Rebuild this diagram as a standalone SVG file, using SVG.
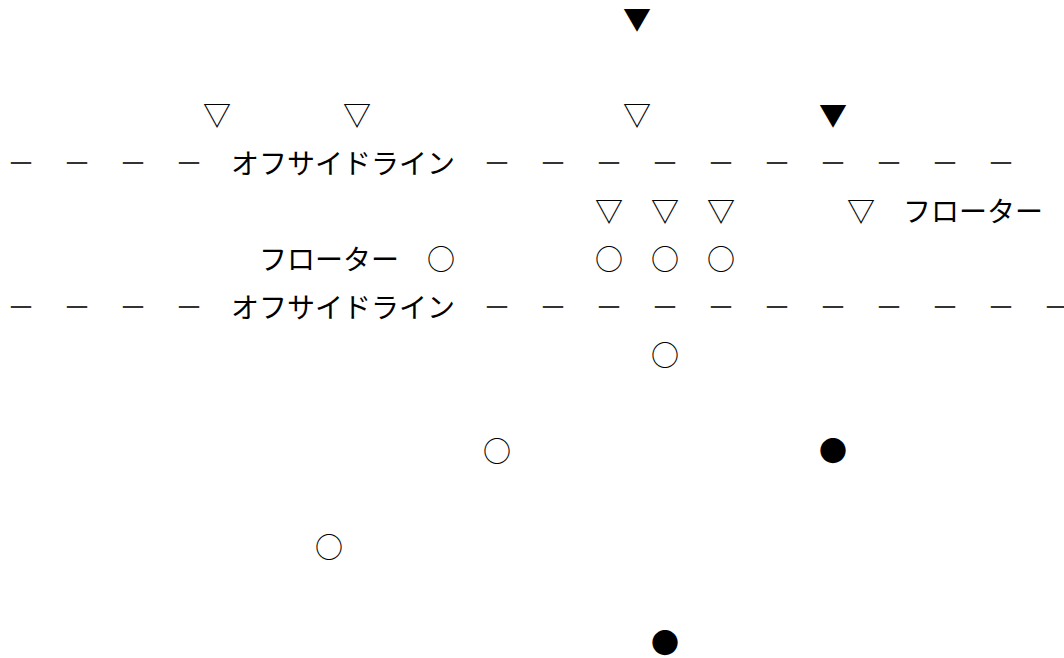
<svg xmlns="http://www.w3.org/2000/svg" width="1064" height="658" viewBox="0 0 1064 658">
<style>
.t{font-family:"Noto Sans CJK JP","Noto Sans CJK SC",sans-serif;font-size:28px;fill:#000}
.m{text-anchor:middle}
.d{fill:#333}
</style>
<rect width="1064" height="658" fill="#fff"/>
<g id="offside-lines">
<g id="line1">
<text class="t d m" x="21 77 133 189" y="174">－－－－</text>
<text class="t" x="231" y="174">オフサイドライン</text>
<text class="t d m" x="497 553 609 665 721 777 833 889 945 1001" y="174">－－－－－－－－－－</text>
</g>
<g id="line2">
<text class="t d m" x="21 77 133 189" y="318">－－－－</text>
<text class="t" x="231" y="318">オフサイドライン</text>
<text class="t d m" x="497 553 609 665 721 777 833 889 945 1001 1057" y="318">－－－－－－－－－－－</text>
</g>
</g>
<g id="labels">
<text id="floater-right" class="t" x="903" y="222">フローター</text>
<text id="floater-left" class="t" x="259" y="270">フローター</text>
</g>
<g id="players">
<g id="p1"><text class="t m" x="637" y="30">▼</text></g>
<g id="p2"><text class="t m" x="217" y="126">▽</text></g>
<g id="p3"><text class="t m" x="357" y="126">▽</text></g>
<g id="p4"><text class="t m" x="637" y="126">▽</text></g>
<g id="p5"><text class="t m" x="833" y="126">▼</text></g>
<g id="p6"><text class="t m" x="609" y="222">▽</text></g>
<g id="p7"><text class="t m" x="665" y="222">▽</text></g>
<g id="p8"><text class="t m" x="721" y="222">▽</text></g>
<g id="p9"><text class="t m" x="861" y="222">▽</text></g>
<g id="p10"><text class="t m" x="441" y="270">○</text></g>
<g id="p11"><text class="t m" x="609" y="270">○</text></g>
<g id="p12"><text class="t m" x="665" y="270">○</text></g>
<g id="p13"><text class="t m" x="721" y="270">○</text></g>
<g id="p14"><text class="t m" x="665" y="366">○</text></g>
<g id="p15"><text class="t m" x="497" y="462">○</text></g>
<g id="p16"><text class="t m" x="833" y="462">●</text></g>
<g id="p17"><text class="t m" x="329" y="558">○</text></g>
<g id="p18"><text class="t m" x="665" y="654">●</text></g>
</g>
</svg>
